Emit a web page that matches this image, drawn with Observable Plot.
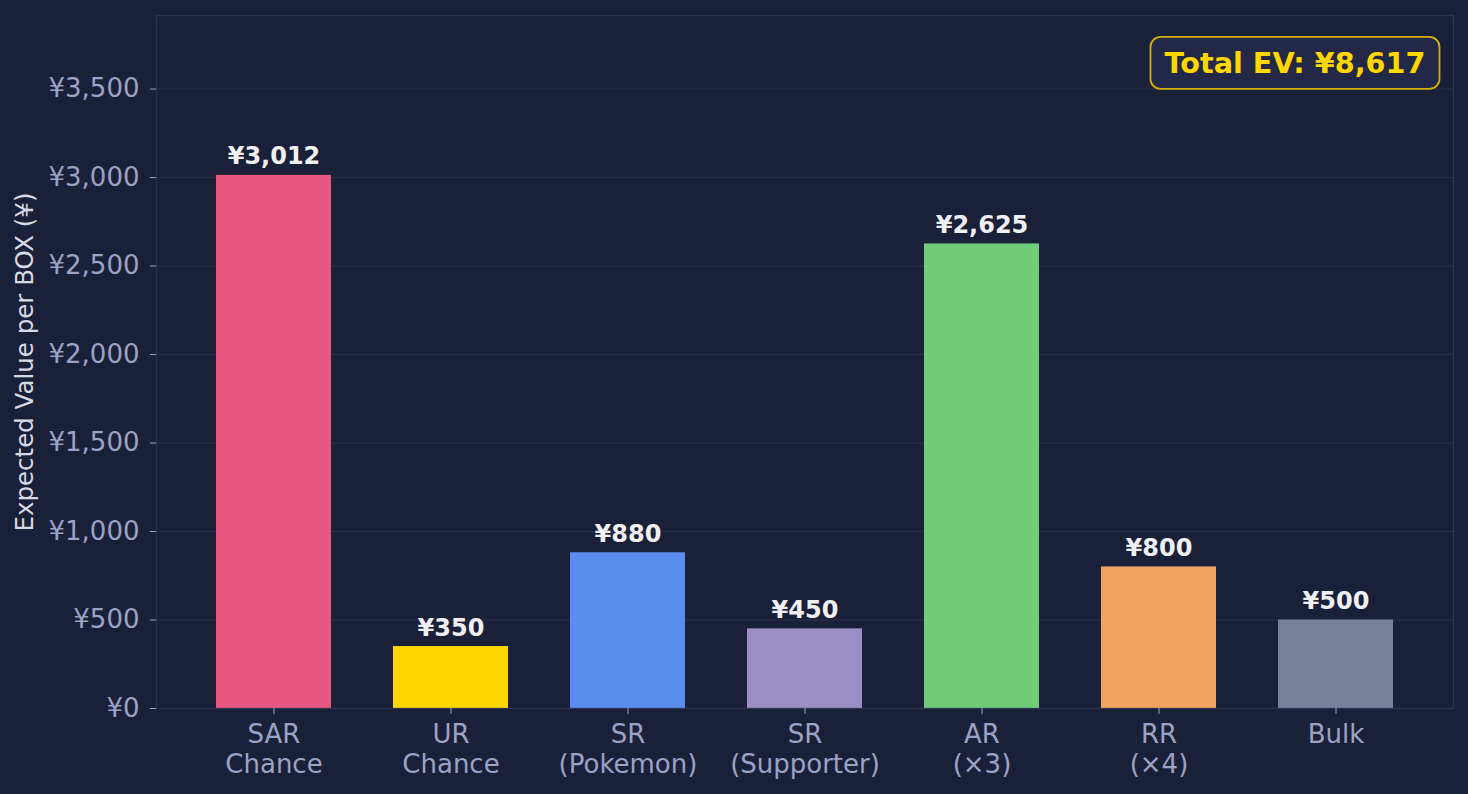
<!DOCTYPE html>
<html><head><meta charset="utf-8">
<script src="https://cdn.jsdelivr.net/npm/d3@7"></script>
<script src="https://cdn.jsdelivr.net/npm/@observablehq/plot@0.6"></script>
<style>
html,body{margin:0;padding:0;background:#1b2039;}
#chart svg{display:block;}
</style></head><body>
<div id="chart"></div>
<script>
const categories = ["SAR\nChance", "UR\nChance", "SR\n(Pokemon)", "SR\n(Supporter)", "AR\n(×3)", "RR\n(×4)", "Bulk"];
const values = [3012, 350, 880, 450, 2625, 800, 500];
const colors = ["#e8577f", "#ffd700", "#5b8def", "#9b8ec4", "#6fcd79", "#f2a261", "#7a7f9a"];
const yTicks = [0, 500, 1000, 1500, 2000, 2500, 3000, 3500];
const totalLabel = "Total EV: ¥8,617";
const yLabel = "Expected Value per BOX (¥)";

const data = categories.map((c, i) => ({category: c, value: values[i], color: colors[i]}));
const yen = d => "¥" + d3.format(",")(d);
const yMax = d3.max(values) * 1.3;

const chart = Plot.plot({
  width: 1468, height: 794,
  marginLeft: 156, marginRight: 15, marginTop: 15, marginBottom: 86,
  style: {background: "#1b2039", fontFamily: "DejaVu Sans", overflow: "visible"},
  x: {domain: categories, paddingInner: 0.35, paddingOuter: 0.335, label: null},
  y: {domain: [0, yMax], label: null},
  marks: [
    Plot.gridY(yTicks, {stroke: "#2a2f4c", strokeOpacity: 1, strokeWidth: 1}),
    Plot.barY(data, {x: "category", y: "value", fill: "color"}),
    Plot.text(data, {x: "category", y: "value", text: d => yen(d.value), lineAnchor: "bottom", dy: -11,
      fill: "#f0f0f2", fontWeight: "bold", fontSize: 24}),
    Plot.frame({stroke: "#2f3454", strokeWidth: 1.3}),
    Plot.axisY(yTicks, {tickFormat: yen, tickSize: 6, tickPadding: 11, fontSize: 26, color: "#9ca2c4", label: null}),
    Plot.axisX({tickSize: 6, tickPadding: 7, fontSize: 26, lineHeight: 1.15, color: "#9ca2c4", label: null}),
    Plot.text([yLabel], {frameAnchor: "left", rotate: -90, dx: -131, textAnchor: "middle", lineAnchor: "middle",
      fill: "#d6d9e6", fontSize: 24.5}),
    Plot.text([totalLabel], {frameAnchor: "top-right", dx: -28, dy: 37, textAnchor: "end", lineAnchor: "top",
      fill: "#ffd700", fontWeight: "bold", fontSize: 28.7})
  ]
});
document.getElementById("chart").appendChild(chart);

// rounded box behind the total label
const svg = d3.select(chart);
svg.selectAll("text").filter(function() { return this.textContent === totalLabel; }).each(function() {
  const b = this.getBBox();
  const padX = 14, padY = 9;
  const rect = document.createElementNS("http://www.w3.org/2000/svg", "rect");
  rect.setAttribute("x", b.x - padX);
  rect.setAttribute("y", b.y - padY);
  rect.setAttribute("width", b.width + 2 * padX);
  rect.setAttribute("height", b.height + 2 * padY);
  rect.setAttribute("rx", 10);
  rect.setAttribute("fill", "#222846");
  rect.setAttribute("stroke", "#d1b20b");
  rect.setAttribute("stroke-width", 1.8);
  const t = this.getAttribute("transform");
  if (t) rect.setAttribute("transform", t);
  this.parentNode.insertBefore(rect, this);
});
</script>
</body></html>
